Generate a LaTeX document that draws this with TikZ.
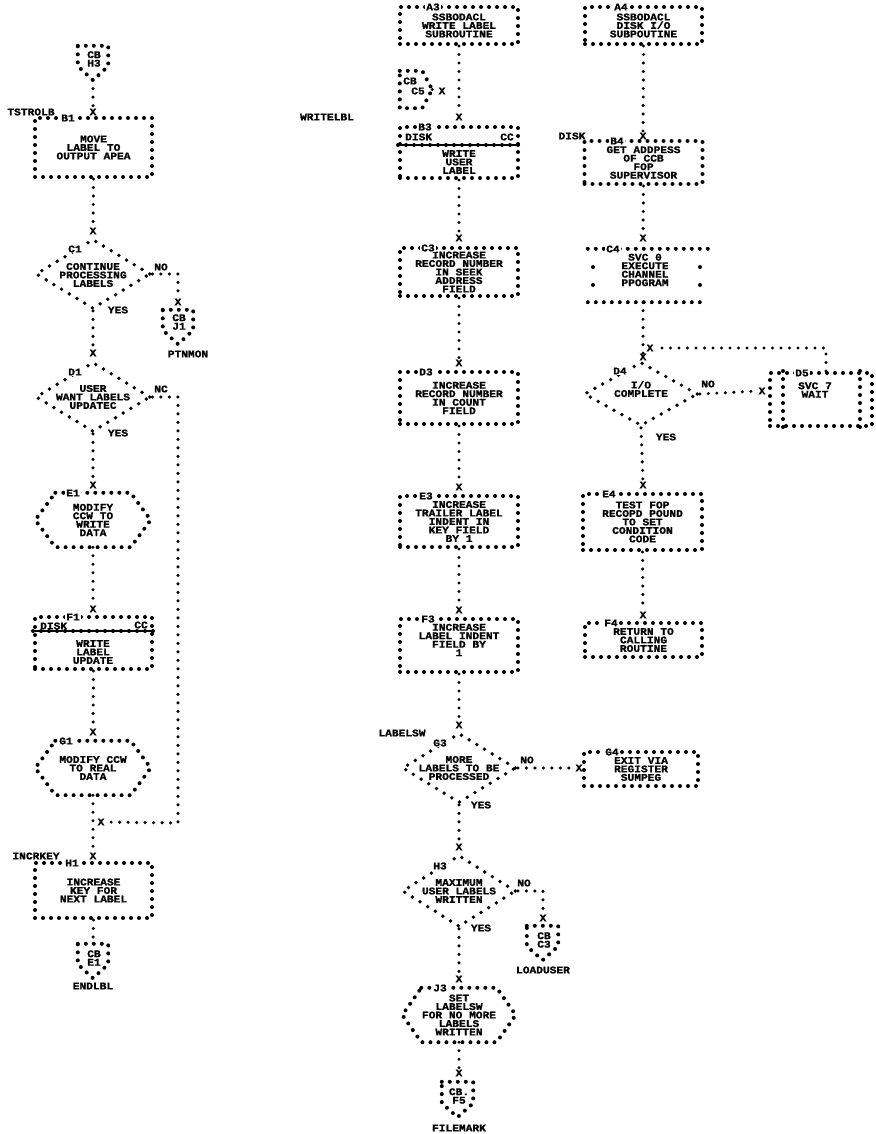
\documentclass[tikz,border=0pt]{standalone}
\usepackage{fontspec}
\newfontfamily\ibmfam[UprightFont={* Bold}, FakeStretch=1.1, FakeBold=1.2]{Liberation Mono}
\newcommand\ibmf{\ibmfam\fontsize{10.2pt}{8.5pt}\selectfont}
\usetikzlibrary{shapes.geometric}
\begin{document}
\begin{tikzpicture}[x=1pt,y=-1pt,
  every node/.style={font=\ibmf, inner sep=0pt, align=center},
  border/.style={draw, line width=4pt, line cap=round, dash pattern=on 0pt off 8pt},
  pbox/.style 2 args={rectangle, border, minimum width=#1, minimum height=#2},
  plain/.style 2 args={rectangle, minimum width=#1, minimum height=#2},
  dia/.style 2 args={diamond, draw, line width=3.8pt, line cap=round, dash pattern=on 0pt off 9pt, minimum width=#1, minimum height=#2},
  conn/.style={line width=3.4pt, line cap=round, dash pattern=on 0pt off 8.5pt},
  stripe/.style={line width=1.1pt},
  lab/.style={fill=white, inner sep=1pt}
]
\useasboundingbox (0,0) rectangle (875,1134);

% ================= column 1 =================
\node[plain={30pt}{34pt}] (H3c) at (93,63) {};
\draw[border] (H3c.north west) -- (H3c.north east) -- ([yshift=14pt]H3c.south east) -- (H3c.south) -- ([yshift=14pt]H3c.south west) -- cycle;
\node (H3ct) at (94,59) {CB\\H3};

\node (xB1) at (93,112) {X};
\node (tstr) at (31,112) {TSTROLB};
\node[pbox={117pt}{59pt}] (B1) at (93.5,147.5) {MOVE\\LABEL TO\\OUTPUT APEA};
\node[lab] (B1l) at (68,118) {B1};
\draw[conn] (H3c.south) -- (xB1.north);

\node (xC1) at (93,231) {X};
\draw[conn] (B1.south) -- (xC1.north);
\node[dia={115pt}{70pt}] (C1) at (93,274) {};
\node (C1t) at (93,275) {CONTINUE\\PROCESSING\\LABELS};
\node[lab] (C1l) at (75,249) {C1};
\node (C1no) at (161,267) {NO};
\node (C1yes) at (118,310) {YES};
\node (xJ1) at (178,302) {X};
\draw[conn] (C1.east) -| (xJ1.north);
\node[plain={30pt}{34pt}] (J1c) at (178,327) {};
\draw[border] (J1c.north west) -- (J1c.north east) -- ([yshift=14pt]J1c.south east) -- (J1c.south) -- ([yshift=14pt]J1c.south west) -- cycle;
\node (J1ct) at (179,322) {CB\\J1};
\node (ptn) at (188,354) {PTNMON};

\node (xD1) at (93,353) {X};
\draw[conn] (C1.south) -- (xD1.north);
\node[dia={115pt}{70pt}] (D1) at (93,397) {};
\node (D1t) at (93,397) {USER\\WANT LABELS\\UPDATEC};
\node[lab] (D1l) at (75,372) {D1};
\node (D1no) at (161,389) {NC};
\node (D1yes) at (118,433) {YES};

\node (xE1) at (93,485) {X};
\draw[conn] (D1.south) -- (xE1.north);
\node[plain={115pt}{54pt}] (E1) at (93,520) {MODIFY\\CCW TO\\WRITE\\DATA};
\draw[border] ([xshift=20pt]E1.north west) -- ([xshift=-20pt]E1.north east) -- (E1.east) -- ([xshift=-20pt]E1.south east) -- ([xshift=20pt]E1.south west) -- (E1.west) -- cycle;
\node[lab] (E1l) at (73,493) {E1};

\node (xF1) at (93,609) {X};
\draw[conn] (E1.south) -- (xF1.north);
\node[pbox={117pt}{52pt}] (F1) at (93.5,643) {};
\node (F1t) at (93,652) {WRITE\\LABEL\\UPDATE};
\node[anchor=west,lab] (F1d) at (39,626) {DISK};
\node (F1c) at (141,625) {CC};
\draw[stripe] ([yshift=-16pt]F1.north west) -- ([yshift=-16pt]F1.north east);
\draw[border] ([yshift=-16pt]F1.north west) -- ([yshift=-16pt]F1.north east);
\node[lab] (F1l) at (73,617) {F1};

\node (xG1) at (93,732) {X};
\draw[conn] (F1.south) -- (xG1.north);
\node[plain={115pt}{54pt}] (G1) at (93,768) {MODIFY CCW\\TO REAL\\DATA};
\draw[border] ([xshift=20pt]G1.north west) -- ([xshift=-20pt]G1.north east) -- (G1.east) -- ([xshift=-20pt]G1.south east) -- ([xshift=20pt]G1.south west) -- (G1.west) -- cycle;
\node[lab] (G1l) at (66,741) {G1};

\node (xJn) at (101,822) {X};
\node (xH1) at (93,856) {X};
\draw[conn] (G1.south) -- (xH1.north);
\coordinate (bendD1) at (178,823);
\draw[conn] (D1.east) -| (bendD1) -- (xJn.east);
\node (incr) at (36,856) {INCRKEY};
\node[pbox={117pt}{55pt}] (H1) at (93.5,890.5) {INCREASE\\KEY FOR\\NEXT LABEL};
\node[lab] (H1l) at (72,863) {H1};

\node[plain={30pt}{34pt}] (E1c) at (93,961) {};
\draw[border] (E1c.north west) -- (E1c.north east) -- ([yshift=14pt]E1c.south east) -- (E1c.south) -- ([yshift=14pt]E1c.south west) -- cycle;
\node (E1ct) at (94,958) {CB\\E1};
\draw[conn] (H1.south) -- (E1c.north);
\node (endl) at (93,986) {ENDLBL};

% ================= column 2 =================
\node[pbox={118pt}{37pt}] (A3) at (459,25.5) {SSBODACL\\WRITE LABEL\\SUBROUTINE};
\node[lab] (A3l) at (433,7) {A3};
\node (xB3) at (459,117) {X};
\draw[conn] (A3.south) -- (xB3.north);

\node[plain={32pt}{37pt}] (C5c) at (416,89.5) {};
\draw[border] (C5c.north west) -- ([xshift=-10pt]C5c.north east) -- (C5c.east) -- ([xshift=-10pt]C5c.south east) -- (C5c.south west) -- cycle;
\node (C5t1) at (410,81) {CB};
\node (C5t2) at (418,91) {C5};
\node (xC5) at (442,91) {X};
\draw[conn] (C5c.east) -- (xC5.west);

\node (wlbl) at (327,117) {WRITELBL};
\node[pbox={118pt}{51pt}] (B3) at (459,152.5) {};
\node (B3t) at (459,162) {WRITE\\USER\\LABEL};
\node[anchor=west,lab] (B3d) at (404,137) {DISK};
\node[lab] (B3c) at (507,137) {CC};
\draw[stripe] ([yshift=-20pt]B3.north west) -- ([yshift=-20pt]B3.north east);
\draw[border] ([yshift=-20pt]B3.north west) -- ([yshift=-20pt]B3.north east);
\node[lab] (B3l) at (425,127) {B3};

\node (xC3) at (459,238) {X};
\draw[conn] (B3.south) -- (xC3.north);
\node[pbox={118pt}{48pt}] (C3) at (459,272) {INCREASE\\RECORD NUMBER\\IN SEEK\\ADDRESS\\FIELD};
\node[lab] (C3l) at (428,248) {C3};

\node (xD3) at (459,363) {X};
\draw[conn] (C3.south) -- (xD3.north);
\node[pbox={118pt}{52pt}] (D3) at (459,398) {INCREASE\\RECORD NUMBER\\IN COUNT\\FIELD};
\node[lab] (D3l) at (426,372) {D3};

\node (xE3) at (459,487) {X};
\draw[conn] (D3.south) -- (xE3.north);
\node[pbox={118pt}{51pt}] (E3) at (459,521.5) {INCREASE\\TRAILER LABEL\\INDENT IN\\KEY FIELD\\BY 1};
\node[lab] (E3l) at (426,496) {E3};

\node (xF3) at (459,610) {X};
\draw[conn] (E3.south) -- (xF3.north);
\node[pbox={118pt}{53pt}] (F3) at (459,645.5) {};
\node (F3t) at (459,640) {INCREASE\\LABEL INDENT\\FIELD BY\\1};
\node[lab] (F3l) at (428,619) {F3};

\node (xG3) at (459,725) {X};
\draw[conn] (F3.south) -- (xG3.north);
\node (lsw) at (402,733) {LABELSW};
\node[dia={114pt}{70pt}] (G3) at (459,768) {};
\node (G3t) at (459,768) {MORE\\LABELS TO BE\\PROCESSED};
\node[lab] (G3l) at (440,743) {G3};
\node (G3no) at (527,760) {NO};
\node (G3yes) at (481,805) {YES};
\node (xG4) at (579,768) {X};
\draw[conn] (G3.east) -- (xG4.west);
\node[pbox={114pt}{34pt}] (G4) at (641,769) {EXIT VIA\\REGISTER\\SUMPEG};
\node[lab] (G4l) at (612,752) {G4};

\node (xH3) at (459,847) {X};
\draw[conn] (G3.south) -- (xH3.north);
\node[dia={114pt}{72pt}] (H3) at (459,891) {};
\node (H3t) at (459,891) {MAXIMUM\\USER LABELS\\WRITTEN};
\node[lab] (H3l) at (440,866) {H3};
\node (H3no) at (524,883) {NO};
\node (H3yes) at (481,928) {YES};
\node (xC3c) at (543,918) {X};
\draw[conn] (H3.east) -| (xC3c.north);
\node[plain={31pt}{34pt}] (C3c) at (542.5,943) {};
\draw[border] (C3c.north west) -- (C3c.north east) -- ([yshift=14pt]C3c.south east) -- (C3c.south) -- ([yshift=14pt]C3c.south west) -- cycle;
\node (C3ct) at (544,940) {CB\\C3};
\node (ldu) at (543,970) {LOADUSER};

\node (xJ3) at (459,979) {X};
\draw[conn] (H3.south) -- (xJ3.north);
\node[plain={113pt}{54pt}] (J3) at (459,1015) {SET\\LABELSW\\FOR NO MORE\\LABELS\\WRITTEN};
\draw[border] ([xshift=19pt]J3.north west) -- ([xshift=-19pt]J3.north east) -- (J3.east) -- ([xshift=-19pt]J3.south east) -- ([xshift=19pt]J3.south west) -- (J3.west) -- cycle;
\node[lab] (J3l) at (440,988) {J3};

\node (xF5) at (459,1073) {X};
\draw[conn] (J3.south) -- (xF5.north);
\node[plain={31pt}{35pt}] (F5c) at (457.5,1099.5) {};
\draw[border] (F5c.north west) -- (F5c.north east) -- ([yshift=14pt]F5c.south east) -- (F5c.south) -- ([yshift=14pt]F5c.south west) -- cycle;
\node (F5ct) at (459,1096) {CB.\\F5};
\node (fmk) at (459,1128) {FILEMARK};

% ================= column 3 =================
\node[pbox={117pt}{37pt}] (A4) at (643.5,25.5) {SSBODACL\\DISK I/O\\SUBPOUTINE};
\node[lab] (A4l) at (621,7) {A4};
\node (xB4) at (643,136) {X};
\draw[conn] (A4.south) -- (xB4.north);
\node (dsk) at (572,136) {DISK};
\node[pbox={118pt}{43pt}] (B4) at (643.5,162.5) {GET ADDPESS\\OF CCB\\FOP\\SUPERVISOR};
\node[lab] (B4l) at (617,141) {B4};

\node (xC4) at (643,238) {X};
\draw[conn] (B4.south) -- (xC4.north);
\node[plain={114pt}{53pt}] (C4) at (645,275.5) {};
\node (C4t) at (645,270) {SVC 0\\EXECUTE\\CHANNEL\\PPOGRAM};
\draw[border] (C4.north west) -- ([xshift=12pt]C4.north east);
\draw[border] (C4.south west) -- (C4.south east);
\foreach \yy in {267,285} {
  \fill (593,\yy) circle (2pt);
  \fill (700,\yy) circle (2pt);
}
\node[lab] (C4l) at (613,249) {C4};

\node (xD4) at (643,357) {X};
\draw[conn] (xC4.south |- C4.south) -- (xD4.north);
\node (xLoop) at (650,348) {X};
\node[dia={114pt}{64pt}] (D4) at (641,394) {};
\node (D4t) at (641,389) {I/O\\COMPLETE};
\node[lab] (D4l) at (620,371) {D4};
\node (D4no) at (708,384) {NO};
\node (D4yes) at (666,437) {YES};
\node (xD5) at (762,391) {X};
\draw[conn] (D4.east) -- (xD5.west);
\node[pbox={102pt}{53pt}] (D5) at (821,399.5) {};
\draw[border] ([xshift=15pt]D5.north west) -- ([xshift=15pt]D5.south west);
\draw[border] ([xshift=-14pt]D5.north east) -- ([xshift=-14pt]D5.south east);
\node (D5t) at (815,390) {SVC 7\\WAIT};
\node[lab] (D5l) at (802,373) {D5};
\draw[conn] ([xshift=5pt]D5.north) |- (xLoop.east);

\node (xE4) at (643,485) {X};
\draw[conn] (D4.south) -- (xE4.north);
\node[pbox={119pt}{56pt}] (E4) at (642.5,522) {TEST FOP\\RECOPD POUND\\TO SET\\CONDITION\\CODE};
\node[lab] (E4l) at (609,494) {E4};

\node (xF4) at (643,615) {X};
\draw[conn] (E4.south) -- (xF4.north);
\node[pbox={117pt}{34pt}] (F4) at (643.5,640) {RETURN TO\\CALLING\\ROUTINE};
\node[lab] (F4l) at (611,623) {F4};
\end{tikzpicture}
\end{document}
